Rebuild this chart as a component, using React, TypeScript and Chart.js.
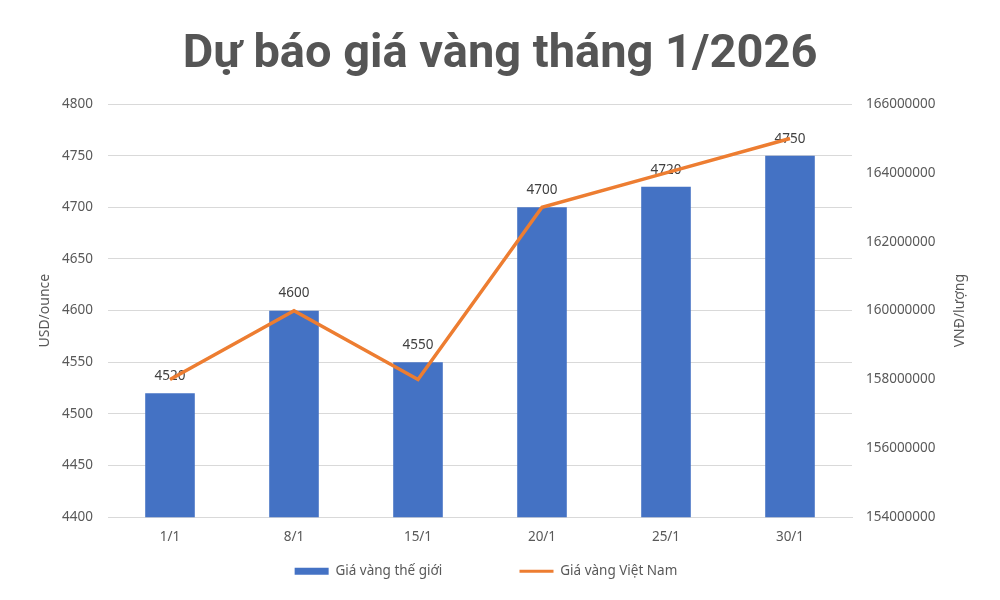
import { useEffect, useRef } from 'react';
import Chart from 'chart.js/auto';

const labels = ['1/1', '8/1', '15/1', '20/1', '25/1', '30/1'];
const worldPrice = [4520, 4600, 4550, 4700, 4720, 4750];
const vnPrice = [158000000, 160000000, 158000000, 163000000, 164000000, 165000000];
const leftTicks = [4400, 4800, 50];
const rightTicks = [154000000, 166000000, 2000000];

const FONT = "'Noto Sans', sans-serif";
const TEXT = '#595959';
const GAP = '\u00a0'.repeat(20);
const TAIL = '\u00a0'.repeat(8);

// nhãn giá trị phía trên cột (vẽ trước đường để đường đè lên)
const barLabels = {
  id: 'barLabels',
  afterDatasetDraw(chart: any, args: any) {
    if (args.index !== 0) return;
    const { ctx } = chart;
    const meta = chart.getDatasetMeta(0);
    ctx.save();
    ctx.font = `13.5px ${FONT}`;
    ctx.fillStyle = '#404040';
    ctx.textAlign = 'center';
    ctx.textBaseline = 'middle';
    meta.data.forEach((bar: any, i: number) => {
      ctx.fillText(String(worldPrice[i]), bar.x, bar.y - 17);
    });
    ctx.restore();
  },
};

// tiêu đề trục phải, đọc từ dưới lên
const rightTitle = {
  id: 'rightTitle',
  afterDraw(chart: any) {
    const { ctx, chartArea } = chart;
    ctx.save();
    ctx.translate(960, (chartArea.top + chartArea.bottom) / 2);
    ctx.rotate(-Math.PI / 2);
    ctx.font = `14px ${FONT}`;
    ctx.fillStyle = TEXT;
    ctx.textAlign = 'center';
    ctx.textBaseline = 'middle';
    ctx.fillText('VNĐ/lượng', 0, 0);
    ctx.restore();
  },
};

const App = () => {
  const canvasRef = useRef<HTMLCanvasElement>(null);
  const chartInstance = useRef<Chart | null>(null);

  useEffect(() => {
    document.body.style.margin = '0';
    if (!canvasRef.current) return;
    const ctx = canvasRef.current.getContext('2d');
    if (!ctx) return;

    chartInstance.current = new Chart(ctx, {
      type: 'bar',
      data: {
        labels,
        datasets: [
          {
            type: 'bar',
            label: 'Giá vàng thế giới',
            data: worldPrice,
            backgroundColor: '#4472C4',
            yAxisID: 'y',
            order: 1,
            barPercentage: 0.4,
            categoryPercentage: 1,
          },
          {
            type: 'line',
            label: 'Giá vàng Việt Nam',
            data: vnPrice,
            borderColor: '#ED7D31',
            backgroundColor: '#ED7D31',
            borderWidth: 3.5,
            pointRadius: 0,
            tension: 0,
            yAxisID: 'y1',
            order: 0,
          },
        ] as any,
      },
      options: {
        animation: false,
        responsive: true,
        maintainAspectRatio: false,
        layout: { padding: { left: 28, right: 28, top: 0, bottom: 12 } },
        scales: {
          x: {
            grid: { display: false, drawTicks: false },
            border: { color: '#d9d9d9' },
            ticks: { color: TEXT, font: { family: FONT, size: 13.5 }, padding: 12 },
          },
          y: {
            position: 'left',
            min: leftTicks[0],
            max: leftTicks[1],
            afterFit: (scale: any) => { scale.width = 80; },
            ticks: {
              stepSize: leftTicks[2],
              color: TEXT,
              font: { family: FONT, size: 13.5 },
              padding: 15,
              callback: (v: any) => String(v),
            },
            grid: { color: '#d9d9d9', drawTicks: false },
            border: { display: false },
            title: {
              display: true,
              text: 'USD/ounce',
              color: TEXT,
              font: { family: FONT, size: 14 },
              padding: { top: 9, bottom: 4 },
            },
          },
          y1: {
            position: 'right',
            min: rightTicks[0],
            max: rightTicks[1],
            afterFit: (scale: any) => { scale.width = 120; },
            ticks: {
              stepSize: rightTicks[2],
              color: TEXT,
              font: { family: FONT, size: 13.5 },
              padding: 14,
              callback: (v: any) => String(v),
            },
            grid: { display: false, drawTicks: false },
            border: { display: false },
          },
        },
        plugins: {
          title: {
            display: true,
            text: 'Dự báo giá vàng tháng 1/2026',
            color: '#555555',
            font: { family: 'Roboto', size: 47, weight: 'bold' },
            padding: { top: 26.6, bottom: 21 },
          },
          legend: {
            position: 'bottom',
            labels: {
              color: TEXT,
              font: { family: FONT, size: 13.5 },
              usePointStyle: true,
              pointStyleWidth: 34,
              boxHeight: 7,
              padding: 7,
              generateLabels: () => [
                {
                  text: 'Giá vàng thế giới' + GAP,
                  fillStyle: '#4472C4',
                  strokeStyle: '#4472C4',
                  lineWidth: 0,
                  pointStyle: 'rect',
                  datasetIndex: 0,
                  fontColor: TEXT,
                },
                {
                  text: 'Giá vàng Việt Nam' + TAIL,
                  fillStyle: '#ED7D31',
                  strokeStyle: '#ED7D31',
                  lineWidth: 3,
                  pointStyle: 'line',
                  datasetIndex: 1,
                  fontColor: TEXT,
                },
              ],
            },
          },
          tooltip: { enabled: false },
        },
      },
      plugins: [barLabels, rightTitle],
    });

    return () => {
      if (chartInstance.current) {
        chartInstance.current.destroy();
      }
    };
  }, []);

  return (
    <div style={{ width: 1000, height: 600, position: 'relative', background: '#fff' }}>
      <canvas ref={canvasRef} />
    </div>
  );
};

export default App;
